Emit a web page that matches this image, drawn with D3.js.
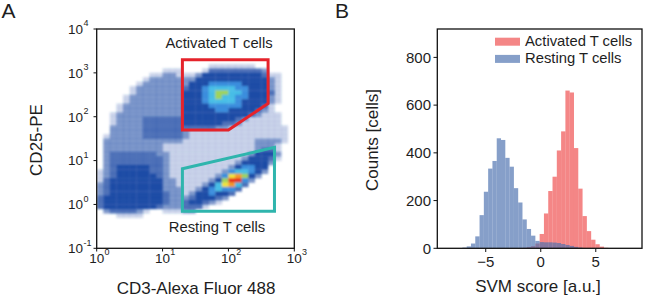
<!DOCTYPE html>
<html>
<head>
<meta charset="utf-8">
<script src="https://cdn.jsdelivr.net/npm/d3@7"></script>
<style>
  body { margin: 0; background: #fff; }
  text { font-family: "Liberation Sans", Arial, sans-serif; fill: #1e1e1e; }
</style>
</head>
<body>
<svg id="fig" width="645" height="297"></svg>
<script>
// ---- panel A: scatter density on a 0.1-decade grid ----
// one string per row of log10(CD25), from 3.2 down to -0.3;
// each char is one column of log10(CD3) from 0.0 to 2.9
// 0 empty, 1-4 blue dots (sparse -> dense), 5 light blue, 6 cyan, 7 green, 8 yellow, 9 orange, r red
var densityTop = 3.2;
var densityRows = [
  "0000000000 0000000000 0000000000",
  "0000000000 0000000111 1111000000",
  "0000000000 1110001333 3333320000",
  "0000000011 2211124444 4444431100",
  "0000000122 2222244444 4444442100",
  "0000001222 2222444555 5544442100",
  "0000012222 2223445666 6554442100",
  "0000012222 2224445677 6654443100",
  "0000122222 2224445676 6554442100",
  "0000122222 2224445666 6544442100",
  "0001222222 2224444555 5544431000",
  "0001222222 2224444455 4444321000",
  "0012222222 2224444444 4443211100",
  "0012222333 3334444444 4321111100",
  "0012222333 3334444443 3211111100",
  "0022222333 3333333322 1111111110",
  "0022222333 3332111111 1111111110",
  "0122222333 3332111111 1111111110",
  "0222222222 2221111111 1111222210",
  "0222222222 1111111111 1111222100",
  "0222222222 1111111111 1111233100",
  "0233333332 2111111111 1112444200",
  "0233333333 2111111111 1124443100",
  "0233333333 2111111111 1244442000",
  "0234444433 2111111111 2455440000",
  "1234444433 2111111112 5665420000",
  "1234444443 2111111125 8974200000",
  "1344444444 2211111247 rr52000000",
  "2344444444 2211112468 9630000000",
  "2344444444 2221124565 5300000000",
  "2344444444 3221244544 3000000000",
  "3444444444 3222344432 0000000000",
  "3444444444 3223443210 0000000000",
  "3444444443 2223331000 0000000000",
  "0233332100 1112200000 0000000000",
  "0001111000 0000000000 0000000000"
];

var activatedGate = [[20, 2000], [400, 2000], [400, 200], [100, 50], [20, 50]];
var restingGate = [[20, 0.7], [20, 6.5], [500, 20], [500, 0.7]];
var logTicksX = [0, 1, 2, 3];
var logTicksY = [-1, 0, 1, 2, 3, 4];

// ---- panel B: SVM score histograms ----
var binStart = -7.12;
var binWidth = 0.39;
var restingCounts = [3, 8, 20, 50, 139, 237, 334, 366, 461, 454, 379, 342, 252, 192,
  121, 81, 53, 31, 26, 25, 25, 24, 22, 18, 14, 10, 6, 3, 1];
var activatedCounts = [0, 0, 0, 0, 0, 0, 0, 0, 0, 0, 0, 0, 0, 0,
  2, 5, 9, 20, 60, 146, 240, 300, 410, 490, 661, 653, 420, 250, 135, 72, 36, 17, 7, 2];
var scoreTicks = [-5, 0, 5];
var countTicks = [0, 200, 400, 600, 800];

var svg = d3.select("#fig");

// ================= panel A =================
var xA = d3.scaleLog().domain([1, 1000]).range([96.7, 294.3]);
var yA = d3.scaleLog().domain([0.1, 10000]).range([248.3, 29]);

var levelFill = {
  "1": "#1f4ca6", "2": "#1f4ca6", "3": "#1f4ca6", "4": "#1f4ca6",
  "5": "#3b8ddd", "6": "#46bde6", "7": "#9fd35c", "8": "#f1e23a",
  "9": "#f39a2c", "r": "#e6331f"
};
var levelOpacity = { "1": 0.24, "2": 0.58, "3": 0.8 };

var cells = [];
densityRows.forEach(function(row, r) {
  var chars = row.replace(/ /g, "").split("");
  chars.forEach(function(c, i) {
    if (c === "0") return;
    cells.push({ lx: i / 10, ly: densityTop - r / 10, level: c });
  });
});

var defs = svg.append("defs");
defs.append("clipPath").attr("id", "clipA")
  .append("rect").attr("x", 96.7).attr("y", 29).attr("width", 197.6).attr("height", 219.3);
defs.append("filter").attr("id", "soft")
  .attr("x", "-5%").attr("y", "-5%").attr("width", "110%").attr("height", "110%")
  .append("feGaussianBlur").attr("stdDeviation", 1.1);

svg.append("g")
  .attr("clip-path", "url(#clipA)")
  .append("g")
  .attr("filter", "url(#soft)")
  .selectAll("rect")
  .data(cells)
  .enter()
  .append("rect")
  .attr("x", function(d) { return xA(Math.pow(10, d.lx)); })
  .attr("y", function(d) { return yA(Math.pow(10, d.ly + 0.1)); })
  .attr("width", function(d) { return xA(Math.pow(10, d.lx + 0.1)) - xA(Math.pow(10, d.lx)) + 0.3; })
  .attr("height", function(d) { return yA(Math.pow(10, d.ly)) - yA(Math.pow(10, d.ly + 0.1)) + 0.3; })
  .attr("fill", function(d) { return levelFill[d.level]; })
  .attr("fill-opacity", function(d) { return levelOpacity[d.level] || 1; });

var gateLine = d3.line()
  .x(function(d) { return xA(d[0]); })
  .y(function(d) { return yA(d[1]); })
  .curve(d3.curveLinearClosed);

svg.append("path").attr("d", gateLine(activatedGate))
  .attr("fill", "none").attr("stroke", "#e5232b").attr("stroke-width", 3);
svg.append("path").attr("d", gateLine(restingGate))
  .attr("fill", "none").attr("stroke", "#2fb5ad").attr("stroke-width", 3);

svg.append("text").attr("x", 219).attr("y", 48).attr("text-anchor", "middle")
  .style("font-size", "14.8px").text("Activated T cells");
svg.append("text").attr("x", 217).attr("y", 232).attr("text-anchor", "middle")
  .style("font-size", "14.8px").text("Resting T cells");

// frame and ticks
svg.append("rect").attr("x", 96.7).attr("y", 29).attr("width", 197.6).attr("height", 219.3)
  .attr("fill", "none").attr("stroke", "#111").attr("stroke-width", 1.3);

var axA = svg.append("g");
logTicksX.forEach(function(e) {
  var x = xA(Math.pow(10, e));
  axA.append("line").attr("x1", x).attr("x2", x).attr("y1", 248.3).attr("y2", 251.5)
    .attr("stroke", "#111");
  axA.append("text").attr("x", x).attr("y", 263).attr("text-anchor", "middle")
    .style("font-size", "13.5px").text("10");
  axA.append("text").attr("x", x + 7.8).attr("y", 255).style("font-size", "9px").text(e);
});
logTicksY.forEach(function(e) {
  var y = yA(Math.pow(10, e));
  axA.append("line").attr("x1", 93.5).attr("x2", 96.7).attr("y1", y).attr("y2", y)
    .attr("stroke", "#111");
  axA.append("text").attr("x", 83).attr("y", y + 4.8).attr("text-anchor", "end")
    .style("font-size", "13.5px").text("10");
  axA.append("text").attr("x", 83.6).attr("y", y - 2.6).style("font-size", "9px").text(e);
});

svg.append("text").attr("transform", "translate(41.5,140) rotate(-90)")
  .attr("text-anchor", "middle").style("font-size", "17px").text("CD25-PE");
svg.append("text").attr("x", 196).attr("y", 294).attr("text-anchor", "middle")
  .style("font-size", "17px").text("CD3-Alexa Fluor 488");
svg.append("text").attr("x", 1.5).attr("y", 17.5).style("font-size", "21px").text("A");

// ================= panel B =================
var xB = d3.scaleLinear().domain([-9.4, 9.2]).range([437.3, 642]);
var yB = d3.scaleLinear().domain([0, 919]).range([248.3, 29]);

function bars(counts, color, opacity) {
  svg.append("g")
    .selectAll("rect")
    .data(counts.map(function(c, i) { return { i: i, c: c }; }).filter(function(d) { return d.c > 0; }))
    .enter()
    .append("rect")
    .attr("x", function(d) { return xB(binStart + d.i * binWidth); })
    .attr("width", function(d) { return xB(binStart + (d.i + 1) * binWidth) - xB(binStart + d.i * binWidth); })
    .attr("y", function(d) { return yB(d.c); })
    .attr("height", function(d) { return yB(0) - yB(d.c); })
    .attr("fill", color)
    .attr("fill-opacity", opacity);
}
bars(activatedCounts, "#ee3b3b", 0.62);
bars(restingCounts, "#4c72b0", 0.68);

svg.append("rect").attr("x", 437.3).attr("y", 29).attr("width", 204.7).attr("height", 219.3)
  .attr("fill", "none").attr("stroke", "#111").attr("stroke-width", 1.3);

var axB = svg.append("g");
scoreTicks.forEach(function(t) {
  var x = xB(t);
  axB.append("line").attr("x1", x).attr("x2", x).attr("y1", 248.3).attr("y2", 252)
    .attr("stroke", "#111");
  axB.append("text").attr("x", x).attr("y", 266.5).attr("text-anchor", "middle")
    .style("font-size", "15px").text(t < 0 ? "\u2212" + (-t) : t);
});
countTicks.forEach(function(t) {
  var y = yB(t);
  axB.append("line").attr("x1", 433.5).attr("x2", 437.3).attr("y1", y).attr("y2", y)
    .attr("stroke", "#111");
  axB.append("text").attr("x", 431).attr("y", y + 5.3).attr("text-anchor", "end")
    .style("font-size", "15px").text(t);
});

// legend
var legend = [
  { name: "Activated T cells", color: "#ee3b3b", opacity: 0.62 },
  { name: "Resting T cells", color: "#4c72b0", opacity: 0.68 }
];
legend.forEach(function(d, i) {
  svg.append("rect").attr("x", 495).attr("y", 37.7 + i * 17.2).attr("width", 25).attr("height", 8)
    .attr("fill", d.color).attr("fill-opacity", d.opacity);
  svg.append("text").attr("x", 525).attr("y", 45.5 + i * 17.2)
    .style("font-size", "14.8px").text(d.name);
});

svg.append("text").attr("transform", "translate(377.5,140) rotate(-90)")
  .attr("text-anchor", "middle").style("font-size", "17px").text("Counts [cells]");
svg.append("text").attr("x", 538).attr("y", 292).attr("text-anchor", "middle")
  .style("font-size", "17px").text("SVM score [a.u.]");
svg.append("text").attr("x", 335).attr("y", 18).style("font-size", "21px").text("B");
</script>
</body>
</html>
